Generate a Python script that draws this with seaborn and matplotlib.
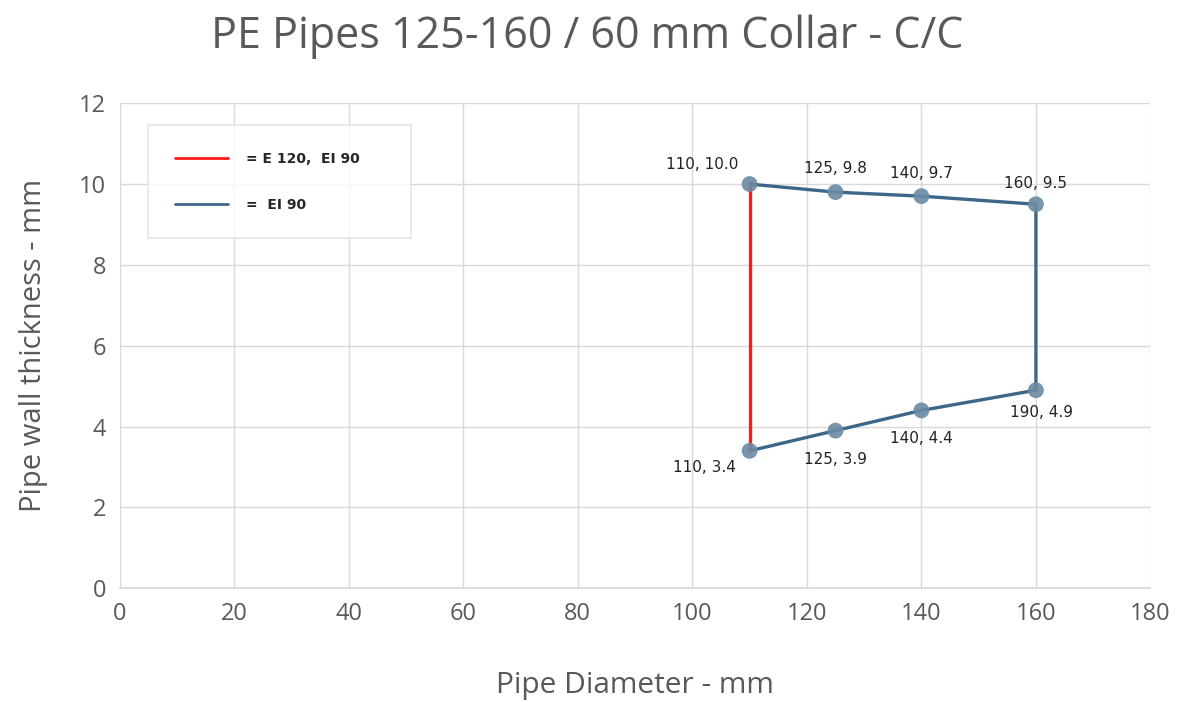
import numpy as np
import pandas as pd
import matplotlib
matplotlib.use("Agg")
import matplotlib.pyplot as plt
import seaborn as sns

# ==============================
# DATA
# ==============================

blue_x = [110, 125, 140, 160, 160, 140, 125, 110]
blue_y = [10.0, 9.8, 9.7, 9.5, 4.9, 4.4, 3.9, 3.4]
red_x = [110, 110]
red_y = [3.4, 10.0]
point_labels = ["110, 10.0", "125, 9.8", "140, 9.7", "160, 9.5",
                "190, 4.9", "140, 4.4", "125, 3.9", "110, 3.4"]
legend_labels = ["= E 120,  EI 90", "=  EI 90"]

# ==============================
# STYLE
# ==============================

sns.set_theme(style="whitegrid")
plt.rcParams["font.family"] = ["Open Sans", "DejaVu Sans"]

blue_df = pd.DataFrame({"x": blue_x, "y": blue_y})
red_df = pd.DataFrame({"x": red_x, "y": red_y})

fig = plt.figure(figsize=(11.86, 7.02), dpi=100)
ax = fig.add_axes([0.101, 0.162, 0.869, 0.691])

sns.lineplot(data=blue_df, x="x", y="y", sort=False, estimator=None,
             color="#3d6788", linewidth=2.4, ax=ax, label=legend_labels[1])
sns.lineplot(data=red_df, x="x", y="y", sort=False, estimator=None,
             color="#ff1a1a", linewidth=2.4, ax=ax, label=legend_labels[0])
sns.scatterplot(data=blue_df, x="x", y="y", color="#6a8aa3", s=130,
                alpha=0.9, edgecolor="none", ax=ax, zorder=3, legend=False)

# ==============================
# DATA LABELS
# ==============================

offsets = [(-8, 14, "right"), (0, 17, "center"), (0, 16, "center"), (0, 15, "center"),
           (4, -16, "center"), (0, -20, "center"), (0, -21, "center"), (-10, -12, "right")]
for xv, yv, txt, (dx, dy, ha) in zip(blue_x, blue_y, point_labels, offsets):
    ax.annotate(txt, (xv, yv), xytext=(dx, dy), textcoords="offset points",
                ha=ha, va="center", fontsize=11, color="#222222",
                family="DejaVu Sans")

# ==============================
# AXES
# ==============================

ax.set_xlim(0, 180)
ax.set_ylim(0, 12)
ax.set_xticks(np.arange(0, 181, 20))
ax.set_yticks(np.arange(0, 13, 2))
ax.tick_params(axis="both", labelsize=17, colors="#595959", length=0, pad=10)
ax.grid(True, color="#d9d9d9", linewidth=1)
for side in ["top", "right", "left"]:
    ax.spines[side].set_visible(False)
ax.spines["bottom"].set_color("#d9d9d9")

fig.suptitle("PE Pipes 125-160 / 60 mm Collar - C/C", fontsize=31,
             color="#595959", x=0.495, y=0.947, va="center")
ax.set_xlabel("Pipe Diameter - mm", fontsize=21.5, color="#595959", labelpad=32)
ax.set_ylabel("Pipe wall thickness - mm", fontsize=21, color="#595959", labelpad=22)

handles, labels = ax.get_legend_handles_labels()
leg = ax.legend(handles[::-1], labels[::-1], loc="upper left",
                bbox_to_anchor=(0.021, 0.969, 0.268, 0.0), mode="expand",
                frameon=True, fancybox=False,
                prop={"size": 10, "weight": "bold", "family": "DejaVu Sans"},
                handlelength=3.8, borderpad=1.9, labelspacing=2.3,
                handletextpad=1.3)
leg.get_frame().set_edgecolor("#e0e0e0")
leg.get_frame().set_linewidth(1.2)
for line in leg.get_lines():
    line.set_linewidth(2)

fig.savefig("out.png", dpi=100)
